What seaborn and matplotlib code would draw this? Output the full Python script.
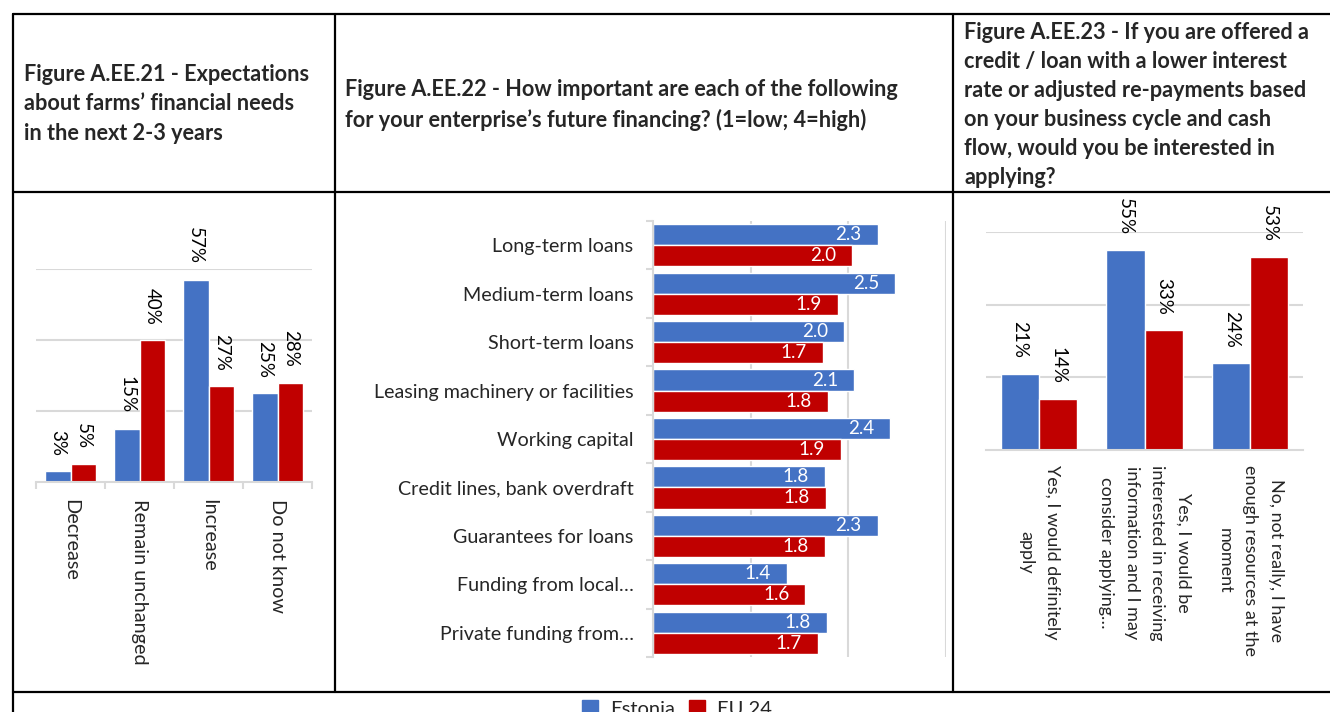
import pandas as pd
import matplotlib.pyplot as plt
import seaborn as sns
from matplotlib.lines import Line2D

sns.set_theme(style="white")
plt.rcParams['font.family'] = ['Lato', 'DejaVu Sans']

blue = "#4472C4"
red = "#C00000"
grid = "#D9D9D9"
W, H = 1330, 712

series = ["Estonia", "EU 24"]

# Figure A.EE.21
needs_cats = ["Decrease", "Remain unchanged", "Increase", "Do not know"]
needs_est = [3, 15, 57, 25]
needs_eu = [5, 40, 27, 28]

# Figure A.EE.22
fin_cats = ["Long-term loans", "Medium-term loans", "Short-term loans",
            "Leasing machinery or facilities", "Working capital",
            "Credit lines, bank overdraft", "Guarantees for loans",
            "Funding from local…", "Private funding from…"]
fin_est = [2.30, 2.48, 1.96, 2.06, 2.43, 1.76, 2.30, 1.37, 1.78]
fin_eu = [2.04, 1.89, 1.74, 1.79, 1.92, 1.77, 1.76, 1.56, 1.69]

# Figure A.EE.23
apply_cats = ["Yes, I would definitely\napply",
              "Yes, I would be\ninterested in receiving\ninformation and I may\nconsider applying…",
              "No, not really, I have\nenough resources at the\nmoment"]
apply_est = [21, 55, 24]
apply_eu = [14, 33, 53]


def long_df(cats, a, b):
    return pd.DataFrame({"cat": cats * 2, "val": a + b,
                         "series": [series[0]] * len(cats) + [series[1]] * len(cats)})


def px_axes(fig, left, top, right, bottom):
    return fig.add_axes([left / W, 1 - bottom / H, (right - left) / W, (bottom - top) / H])


fig = plt.figure(figsize=(W / 100, H / 100), dpi=100)
fig.patch.set_facecolor("white")
pal = {series[0]: blue, series[1]: red}

# ---- panel 1
ax1 = px_axes(fig, 36, 269, 312, 482)
sns.barplot(data=long_df(needs_cats, needs_est, needs_eu), x="cat", y="val", hue="series",
            palette=pal, width=0.75, saturation=1, ax=ax1, legend=False)
ax1.set_ylim(0, 60)
ax1.set_yticks([20, 40, 60])
ax1.yaxis.grid(True, color=grid, lw=1.5)
ax1.set_axisbelow(True)
ax1.set_yticklabels([])
ax1.tick_params(axis="y", length=0)
for c in ax1.containers:
    ax1.bar_label(c, fmt="{:.0f}%", rotation=270, padding=11, fontsize=13.5, color="black")
ax1.set_xticks(range(len(needs_cats)))
ax1.set_xticklabels(needs_cats, rotation=270, fontsize=14.3)
ax1.set_xticks([i - 0.5 for i in range(len(needs_cats) + 1)], minor=True)
ax1.tick_params(axis="x", which="major", length=0, pad=12)
ax1.tick_params(axis="x", which="minor", length=5, width=1.5, color=grid, bottom=True)
ax1.set_xlim(-0.5, len(needs_cats) - 0.5)
for s in ["top", "right", "left"]:
    ax1.spines[s].set_visible(False)
ax1.spines["bottom"].set_color(grid)
ax1.spines["bottom"].set_linewidth(1.5)
ax1.set_xlabel("")
ax1.set_ylabel("")

# ---- panel 2
ax2 = px_axes(fig, 653, 221, 946, 657)
sns.barplot(data=long_df(fin_cats, fin_est, fin_eu), y="cat", x="val", hue="series",
            palette=pal, width=0.87, saturation=1, orient="h", ax=ax2, legend=False)
ax2.set_xlim(0, 3)
ax2.set_xticks([1, 2, 3])
ax2.xaxis.grid(True, color=grid, lw=1.5)
ax2.set_axisbelow(True)
ax2.set_xticklabels([])
ax2.tick_params(axis="x", length=0)
for c in ax2.containers:
    for t in ax2.bar_label(c, fmt="{:.1f}", padding=-11.5, fontsize=13.5, color="white"):
        t.set_ha("right")
ax2.set_yticks(range(len(fin_cats)))
ax2.set_yticklabels(fin_cats, fontsize=14.2)
ax2.set_yticks([i - 0.5 for i in range(len(fin_cats) + 1)], minor=True)
ax2.tick_params(axis="y", which="major", length=0, pad=14)
ax2.tick_params(axis="y", which="minor", length=5, width=1.5, color=grid, left=True)
ax2.set_ylim(len(fin_cats) - 0.5, -0.5)
for s in ["top", "right", "bottom"]:
    ax2.spines[s].set_visible(False)
ax2.spines["left"].set_color(grid)
ax2.spines["left"].set_linewidth(1.5)
ax2.set_xlabel("")
ax2.set_ylabel("")

# ---- panel 3
ax3 = px_axes(fig, 986, 232, 1303, 450)
sns.barplot(data=long_df(apply_cats, apply_est, apply_eu), x="cat", y="val", hue="series",
            palette=pal, width=0.72, saturation=1, ax=ax3, legend=False)
ax3.set_ylim(0, 60)
ax3.set_yticks([20, 40, 60])
ax3.yaxis.grid(True, color=grid, lw=1.5)
ax3.set_axisbelow(True)
ax3.set_yticklabels([])
ax3.tick_params(axis="y", length=0)
for c in ax3.containers:
    ax3.bar_label(c, fmt="{:.0f}%", rotation=270, padding=11, fontsize=13.5, color="black")
ax3.set_xticks(range(len(apply_cats)))
ax3.set_xticklabels(apply_cats, rotation=270, fontsize=13, multialignment="center",
                    linespacing=1.75)
ax3.tick_params(axis="x", length=0, pad=11)
ax3.set_xlim(-0.5, len(apply_cats) - 0.5)
for s in ["top", "right", "left"]:
    ax3.spines[s].set_visible(False)
ax3.spines["bottom"].set_color(grid)
ax3.spines["bottom"].set_linewidth(1.5)
ax3.set_xlabel("")
ax3.set_ylabel("")

# ---- table frame
def hline(y, x0, x1):
    fig.add_artist(Line2D([x0 / W, x1 / W], [1 - y / H, 1 - y / H], color="black", lw=1.6,
                          transform=fig.transFigure))


def vline(x, y0, y1):
    fig.add_artist(Line2D([x / W, x / W], [1 - y0 / H, 1 - y1 / H], color="black", lw=1.6,
                          transform=fig.transFigure))


hline(14, 13, W)
hline(192, 13, W)
hline(692, 13, W)
vline(13, 14, H)
vline(335, 14, 692)
vline(953, 14, 692)

# ---- headers
head_kw = dict(fontsize=15.6, fontweight="bold", va="center", ha="left", linespacing=1.48)
fig.text(24 / W, 1 - 104 / H,
         "Figure A.EE.21 - Expectations\nabout farms’ financial needs\nin the next 2-3 years",
         **head_kw)
fig.text(345 / W, 1 - 105 / H,
         "Figure A.EE.22 - How important are each of the following\n"
         "for your enterprise’s future financing? (1=low; 4=high)", **head_kw)
fig.text(964 / W, 1 - 105 / H,
         "Figure A.EE.23 - If you are offered a\ncredit / loan with a lower interest\n"
         "rate or adjusted re-payments based\non your business cycle and cash\n"
         "flow, would you be interested in\napplying?", **head_kw)

# ---- legend
handles = [plt.Rectangle((0, 0), 1, 1, color=pal[s]) for s in series]
fig.legend(handles, series, loc="upper center", bbox_to_anchor=(677 / W, 1 - 692 / H),
           ncol=2, frameon=False, fontsize=14.5, handlelength=0.8, handleheight=0.8,
           handletextpad=0.6, columnspacing=0.7, borderaxespad=0)

fig.savefig("out.png", dpi=100, facecolor="white")
